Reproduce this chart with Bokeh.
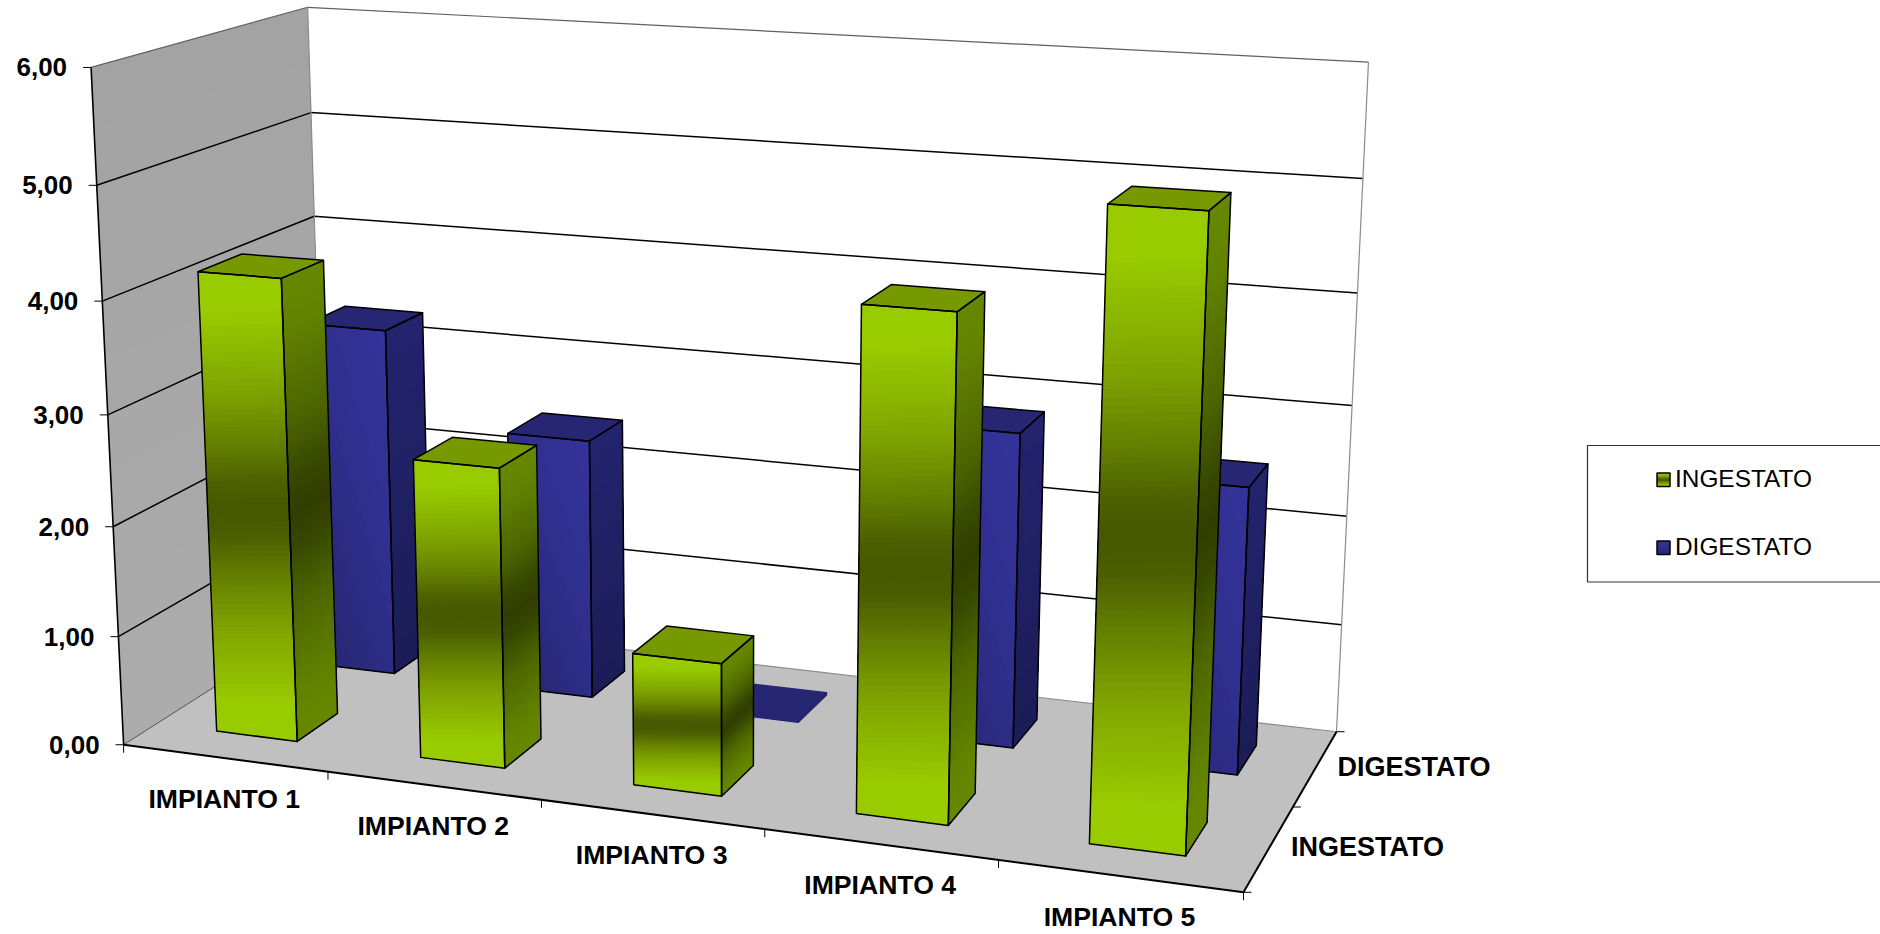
import numpy as np
from bokeh.core.properties import value
from bokeh.embed import file_html
from bokeh.models import Range1d
from bokeh.plotting import figure
from bokeh.resources import INLINE

# Chart content
CATEGORIES = ["IMPIANTO 1", "IMPIANTO 2", "IMPIANTO 3", "IMPIANTO 4", "IMPIANTO 5"]
SERIES = ["INGESTATO", "DIGESTATO"]
INGESTATO = [4.18, 2.69, 1.18, 4.35, 5.30]
DIGESTATO = [3.29, 2.43, 0.02, 2.86, 2.57]
Y_TICK_VALUES = [0, 1, 2, 3, 4, 5, 6]
Y_TICK_LABELS = ["0,00", "1,00", "2,00", "3,00", "4,00", "5,00", "6,00"]
Z_MAX = 6.0

WIDTH, HEIGHT = 1880, 934
FONT = "Liberation Sans"

# Camera: screen position of the plot box corners, as (category, depth, value) -> pixel.
# A single 3x4 perspective matrix is fitted through them.
BOX_CORNERS = {
    (0, 0, 0): (123, 744),
    (0, 0, 6): (90.7, 67),
    (0, 1, 6): (307, 6.7),
    (0, 1, 0): (326.5, 615),
    (1, 1, 6): (1368, 61.7),
    (1, 1, 0): (1336, 731),
    (1, 0, 0): (1243, 892),
}


def fit_camera(corners):
    rows, rhs = [], []
    for (x, y, z), (u, v) in corners.items():
        rows.append([x, y, z, 1, 0, 0, 0, 0, -u * x, -u * y, -u * z])
        rhs.append(u)
        rows.append([0, 0, 0, 0, x, y, z, 1, -v * x, -v * y, -v * z])
        rhs.append(v)
    h = np.linalg.lstsq(np.array(rows, float), np.array(rhs, float), rcond=None)[0]
    return np.append(h, 1).reshape(3, 4)


CAMERA = fit_camera(BOX_CORNERS)


def project(x, y, z):
    q = CAMERA @ np.array([x, y, z, 1.0])
    return float(q[0] / q[2]), float(q[1] / q[2])


def polyline(points):
    pts = [project(*pt) for pt in points]
    return [a for a, _ in pts], [b for _, b in pts]


def to_rgb(c):
    return np.array([int(c[i:i + 2], 16) for i in (1, 3, 5)], float)


def ramp(stops, t):
    """Colour at position t of a list of (position, hex colour) stops."""
    t = min(max(t, 0.0), 1.0)
    for (t0, c0), (t1, c1) in zip(stops, stops[1:]):
        if t <= t1:
            k = (t - t0) / (t1 - t0) if t1 > t0 else 0.0
            r = to_rgb(c0) * (1 - k) + to_rgb(c1) * k
            return "#%02x%02x%02x" % tuple(int(round(a)) for a in r)
    return stops[-1][1]


def clip_above(poly, fn, limit):
    """Keep the part of a (u, v) polygon where fn(u, v) >= limit."""
    out = []
    for a, b in zip(poly, poly[1:] + poly[:1]):
        da = fn(*a) - limit
        db = fn(*b) - limit
        if da >= 0:
            out.append(a)
        if da * db < 0:
            k = da / (da - db)
            out.append((a[0] + k * (b[0] - a[0]), a[1] + k * (b[1] - a[1])))
    return out


def bands(to_screen, grad, stops, n):
    """Colour layers for a unit face: each one covers the rest of the gradient,
    so the layers overlap and no seams show between them."""
    values = [grad(u, v) for u, v in [(0, 0), (1, 0), (1, 1), (0, 1)]]
    lo, hi = min(values), max(values)
    xs, ys, colors = [], [], []
    square = [(0.0, 0.0), (1.0, 0.0), (1.0, 1.0), (0.0, 1.0)]
    for i in range(n):
        t0 = lo + (hi - lo) * i / n
        poly = clip_above(square, grad, t0)
        if len(poly) < 3:
            continue
        pts = [to_screen(u, v) for u, v in poly]
        xs.append([a for a, _ in pts])
        ys.append([b for _, b in pts])
        colors.append(ramp(stops, t0 + (hi - lo) * 0.5 / n))
    return xs, ys, colors


GREEN_FRONT = [(0, "#99cc00"), (.07, "#99cc00"), (.25, "#7da200"), (.36, "#647f00"), (.44, "#4d6100"),
               (.5, "#465700"), (.56, "#4c5f00"), (.64, "#637d00"), (.76, "#80a400"), (.93, "#99cc00"),
               (1, "#99cc00")]
GREEN_SIDE = [(0, "#668800"), (.1, "#628300"), (.3, "#4c6500"), (.42, "#384900"), (.5, "#303d00"),
              (.58, "#384900"), (.7, "#4d6600"), (.9, "#628300"), (1, "#668800")]
GREEN_CAP = "#779900"
BLUE_FRONT = [(0, "#333399"), (.35, "#303091"), (1, "#25266e")]
BLUE_SIDE = [(0, "#23236e"), (1, "#1c1c58")]
BLUE_CAP = "#262672"

p = figure(width=WIDTH, height=HEIGHT, x_range=Range1d(0, WIDTH), y_range=Range1d(HEIGHT, 0),
           output_backend="svg", toolbar_location=None, min_border=0, outline_line_color=None,
           background_fill_color="white", border_fill_color="white")
p.axis.visible = False
p.grid.visible = False

# Walls and floor
wall_x, wall_y, wall_c = bands(
    lambda u, v: project(0, u, Z_MAX * (1 - v)), lambda u, v: v,
    [(0, "#a3a3a3"), (1, "#acacac")], 12)
p.patches(wall_x, wall_y, fill_color=wall_c, line_color=None)
fx, fy = polyline([(0, 0, 0), (1, 0, 0), (1, 1, 0), (0, 1, 0)])
p.patch(fx, fy, fill_color="#c0c0c0", line_color=None)

# Gridlines run along the side wall, then across the back wall
for z in Y_TICK_VALUES[1:]:
    gx, gy = polyline([(0, 0, z), (0, 1, z), (1, 1, z)])
    top = z == Z_MAX
    p.line(gx, gy, line_color="#606060" if top else "#000000", line_width=1.2 if top else 1.5)

for seg in ([(0, 1, 0), (0, 1, Z_MAX)], [(1, 1, 0), (1, 1, Z_MAX)], [(0, 1, 0), (1, 1, 0)]):
    sx, sy = polyline(seg)
    p.line(sx, sy, line_color="#8c8c8c", line_width=1.2)
sx, sy = polyline([(0, 0, 0), (0, 1, 0)])
p.line(sx, sy, line_color="#555555", line_width=1)


def draw_bar(i, depth_slot, val, front, side, cap, front_grad, n):
    x0, x1 = (i + 0.3) / len(CATEGORIES), (i + 0.7) / len(CATEGORIES)
    y0, y1 = (depth_slot + 0.3) / len(SERIES), (depth_slot + 0.7) / len(SERIES)

    def front_face(u, v):
        return project(x0 + u * (x1 - x0), y0, val * (1 - v))

    def side_face(u, v):
        return project(x1, y0 + u * (y1 - y0), val * (1 - v))

    for face, stops, grad in ((front_face, front, front_grad), (side_face, side, lambda u, v: v)):
        bx, by, bc = bands(face, grad, stops, n)
        p.patches(bx, by, fill_color=bc, line_color=None)

    outlines = [
        polyline([(x0, y0, val), (x1, y0, val), (x1, y1, val), (x0, y1, val)]),
        polyline([(x0, y0, 0), (x1, y0, 0), (x1, y0, val), (x0, y0, val)]),
        polyline([(x1, y0, 0), (x1, y1, 0), (x1, y1, val), (x1, y0, val)]),
    ]
    p.patches([outlines[0][0]], [outlines[0][1]], fill_color=cap, line_color=None)
    # A nearly empty column reads as a flat tile, with no dark edge
    edge = "#000000" if val > 0.1 else cap
    p.patches([o[0] for o in outlines], [o[1] for o in outlines], fill_alpha=0,
              line_color=edge, line_width=1.5, line_join="round")


# Painter's order: the rear series first, then the front one
for i, val in enumerate(DIGESTATO):
    draw_bar(i, 1, val, BLUE_FRONT, BLUE_SIDE, BLUE_CAP, lambda u, v: 0.45 * (1 - u) + 0.55 * v, 24)
for i, val in enumerate(INGESTATO):
    skew = 0.09 / val
    draw_bar(i, 0, val, GREEN_FRONT, GREEN_SIDE, GREEN_CAP,
             lambda u, v, s=skew: v + s * (u - 0.5), 80)

# Axis lines
ax, ay = polyline([(0, 0, Z_MAX), (0, 0, 0)])
p.line(ax, ay, line_color="#000000", line_width=1.6)
ax, ay = polyline([(0, 0, 0), (1, 0, 0), (1, 1, 0)])
p.line(ax, ay, line_color="#000000", line_width=2, line_join="round")

# Ticks and their labels
TICK = 8
for z, label in zip(Y_TICK_VALUES, Y_TICK_LABELS):
    tx, ty = project(0, 0, z)
    p.line([tx - TICK, tx], [ty, ty], line_color="#000000", line_width=1)
    p.text([tx - TICK - 16], [ty], text=[label], text_align="right", text_baseline="middle",
           text_font=value(FONT), text_font_style="bold", text_font_size=value("26px"), text_color="#000000")

for i in range(len(CATEGORIES) + 1):
    tx, ty = project(i / len(CATEGORIES), 0, 0)
    p.line([tx, tx], [ty, ty + TICK], line_color="#000000", line_width=1)
for i, label in enumerate(CATEGORIES):
    ax0, ay0 = project(i / len(CATEGORIES), 0, 0)
    ax1, ay1 = project((i + 1) / len(CATEGORIES), 0, 0)
    p.text([(ax0 + ax1) / 2 - 1.5], [(ay0 + ay1) / 2 + 40.5], text=[label], text_align="center",
           text_baseline="middle", text_font=value(FONT), text_font_style="bold",
           text_font_size=value("26.6px"), text_color="#000000")

for j in range(len(SERIES) + 1):
    tx, ty = project(1, j / len(SERIES), 0)
    p.line([tx, tx + TICK], [ty, ty], line_color="#000000", line_width=1)
for j, label in enumerate(SERIES):
    tx, ty = project(1, (j + 0.5) / len(SERIES), 0)
    p.text([tx + 22], [ty - 1.5], text=[label], text_align="left", text_baseline="middle",
           text_font=value(FONT), text_font_style="bold", text_font_size=value("27px"), text_color="#000000")

# Legend box, open at the right where it leaves the page
p.line([WIDTH + 5, 1587, 1587, WIDTH + 5], [445, 445, 581.5, 581.5], line_color="#333333", line_width=1.2)
KEYS = [(472.5, SERIES[0], GREEN_FRONT), (540.5, SERIES[1], BLUE_FRONT)]
for top, label, stops in KEYS:
    kx, ky, kc = bands(lambda u, v, t=top: (1656.5 + 13 * u, t + 13.5 * v), lambda u, v: v, stops, 10)
    p.patches(kx, ky, fill_color=kc, line_color=None)
    p.patch([1656.5, 1669.5, 1669.5, 1656.5], [top, top, top + 13.5, top + 13.5], fill_alpha=0,
            line_color="#000000", line_width=1.5)
    p.text([1674.5], [top + 5.5], text=[label], text_align="left", text_baseline="middle",
           text_font=value(FONT), text_font_size=value("24.4px"), text_color="#000000")

open("out.html", "w").write(file_html(p, INLINE))
